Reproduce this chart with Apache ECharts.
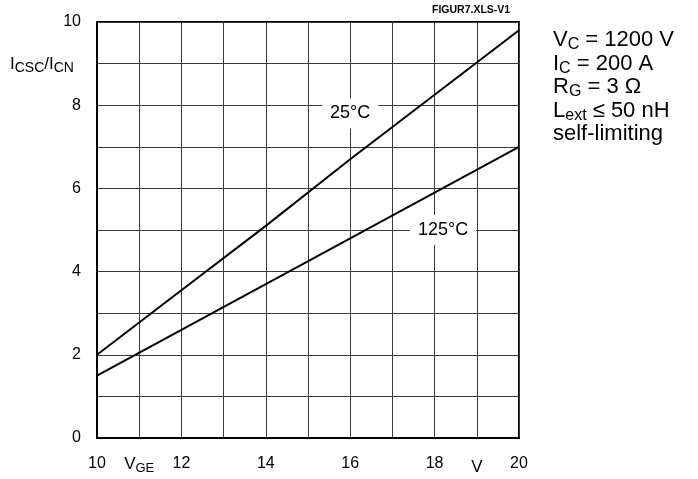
<!DOCTYPE html>
<html><head><meta charset="utf-8">
<script src="https://cdn.jsdelivr.net/npm/echarts@6/dist/echarts.min.js"></script>
<style>html,body{margin:0;padding:0;background:#fff}#c{width:698px;height:479px}</style>
</head><body><div id="c"></div>
<script>
var vge = [10, 12, 14, 16, 18, 20];
var ratio25 = [2.0, 3.55, 5.1, 6.7, 8.25, 9.8];
var ratio125 = [1.5, 2.6, 3.7, 4.8, 5.9, 7.0];
var curveLabels = ['25°C', '125°C'];
var curveLabelPos = [[16.0, 7.8], [18.2, 5.0]];
var yTickValues = [0, 2, 4, 6, 8, 10];
var xTickValues = [10, 11, 12, 14, 16, 18, 19, 20];
var xTickTexts = ['10', 'VGE', '12', '14', '16', '18', 'V', '20'];
var conditions = [['V', 'C', ' = 1200 V'], ['I', 'C', ' = 200 A'], ['R', 'G', ' = 3 Ω'], ['L', 'ext', ' ≤ 50 nH'], ['self-limiting', '', '']];

var FONT = 'Liberation Sans, Arial, sans-serif';
function pairs(xs, ys) { return xs.map(function (x, i) { return [x, ys[i]]; }); }

var chart = echarts.init(document.getElementById('c'), null, {renderer: 'canvas'});
var graphics = [];
graphics.push({
  type: 'text', left: 10, top: 56,
  style: {
    rich: {
      m: {fontSize: 17, fontFamily: FONT, fill: '#000', lineHeight: 19, verticalAlign: 'top'},
      s: {fontSize: 14, fontFamily: FONT, fill: '#000', lineHeight: 16, padding: [5, 0, 0, 0], verticalAlign: 'top'}
    },
    text: '{m|I}{s|CSC}{m|/I}{s|CN}'
  }
});
graphics.push({
  type: 'text', left: 432, top: 5,
  style: {text: 'FIGUR7.XLS-V1', fontSize: 10.5, fontWeight: 'bold', fontFamily: FONT, fill: '#000'}
});
conditions.forEach(function (c, i) {
  var txt = '{m|' + c[0] + '}' + (c[1] ? '{s|' + c[1] + '}' : '') + (c[2] ? '{m|' + c[2] + '}' : '');
  graphics.push({
    type: 'text', left: 553, top: 29 + i * 23.5,
    style: {
      rich: {
        m: {fontSize: 22, fontFamily: FONT, fill: '#000', lineHeight: 22, verticalAlign: 'top'},
        s: {fontSize: 16, fontFamily: FONT, fill: '#000', lineHeight: 16, padding: [8, 0, 0, 0], verticalAlign: 'top'}
      },
      text: txt
    }
  });
});

chart.setOption({
  animation: false,
  backgroundColor: '#fff',
  grid: {left: 97, right: 179, top: 22, bottom: 41, show: true, borderColor: '#000', borderWidth: 2, backgroundColor: 'transparent'},
  xAxis: {
    type: 'value', min: 10, max: 20, interval: 1,
    axisLine: {show: true, lineStyle: {color: '#000', width: 2}},
    axisTick: {show: false},
    splitLine: {show: true, lineStyle: {color: '#3a3a3a', width: 1}},
    axisLabel: {
      margin: 18, color: '#000', fontSize: 16, fontFamily: FONT,
      formatter: function (v) {
        var i = xTickValues.indexOf(v);
        if (i < 0) return '';
        var t = xTickTexts[i];
        if (t === 'VGE') return '{m|V}{s|GE}';
        if (t === 'V') return '{d|V}';
        return t;
      },
      rich: {
        m: {fontSize: 17, fontFamily: FONT, color: '#000', lineHeight: 18, verticalAlign: 'top'},
        s: {fontSize: 13, fontFamily: FONT, color: '#000', lineHeight: 15, padding: [6, 0, 0, 0], verticalAlign: 'top'},
        d: {fontSize: 17, fontFamily: FONT, color: '#000', padding: [3, 0, 0, 0]}
      }
    }
  },
  yAxis: {
    type: 'value', min: 0, max: 10, interval: 1,
    axisLine: {show: true, lineStyle: {color: '#000', width: 2}},
    axisTick: {show: false},
    splitLine: {show: true, lineStyle: {color: '#3a3a3a', width: 1}},
    axisLabel: {
      margin: 16, color: '#000', fontSize: 16, fontFamily: FONT,
      formatter: function (v) { return yTickValues.indexOf(v) >= 0 ? String(v) : ''; }
    }
  },
  series: [
    {type: 'line', data: pairs(vge, ratio25), showSymbol: false, smooth: false, lineStyle: {color: '#000', width: 2}, z: 3},
    {type: 'line', data: pairs(vge, ratio125), showSymbol: false, smooth: false, lineStyle: {color: '#000', width: 2}, z: 3},
    {
      type: 'scatter', symbolSize: 0, z: 4, silent: true,
      itemStyle: {color: '#000', opacity: 1},
      data: curveLabelPos.map(function (p, i) { return {value: p, name: curveLabels[i]}; }),
      label: {
        show: true, position: 'inside', formatter: '{b}', opacity: 1,
        color: '#000', fontSize: 18, fontFamily: FONT,
        textBorderWidth: 0, textBorderColor: 'transparent',
        backgroundColor: '#fff', padding: [6, 8]
      }
    }
  ],
  graphic: graphics
});
</script>
</body></html>
